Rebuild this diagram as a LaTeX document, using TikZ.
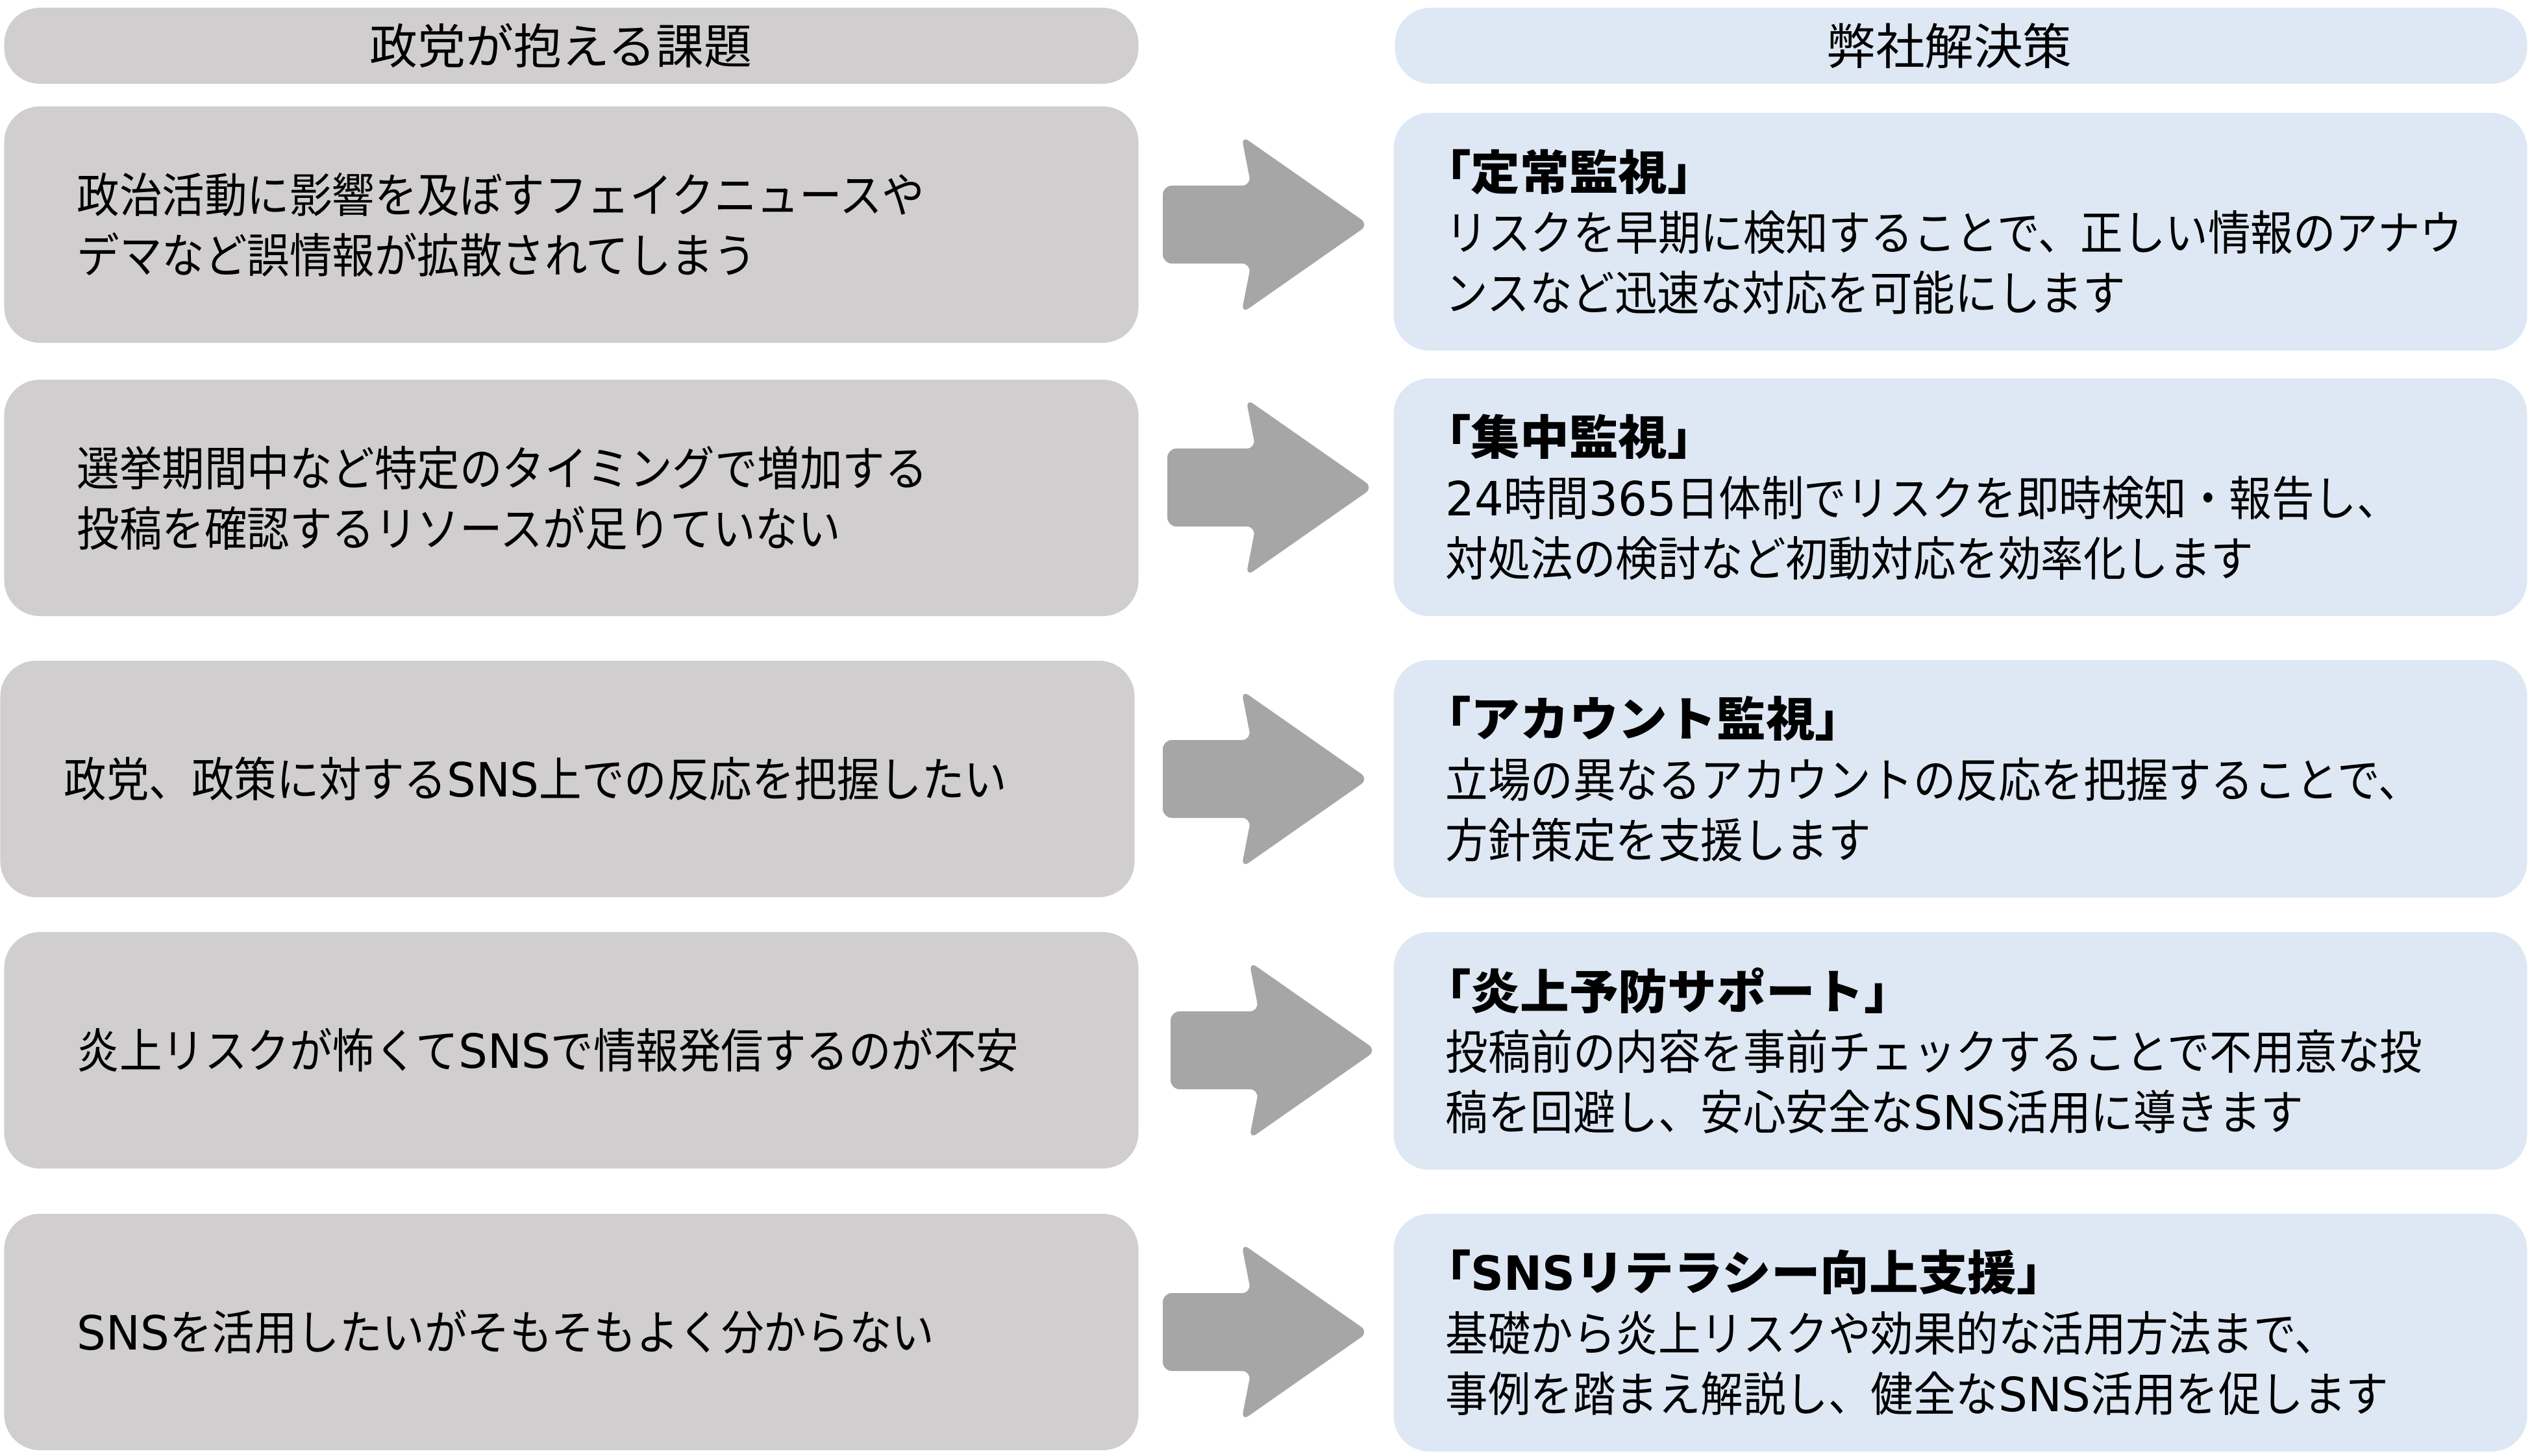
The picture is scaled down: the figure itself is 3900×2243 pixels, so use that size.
\documentclass[tikz,border=0pt]{standalone}
\usepackage{fontspec}
\setmainfont{Noto Sans CJK JP}[FakeStretch=0.9, BoldFeatures={FakeStretch=1.04}]
\newfontfamily\hfont{Noto Sans CJK JP}[FakeStretch=1.0]
\newfontfamily\latfont{DejaVu Sans}[FakeStretch=0.97]
\definecolor{lgray}{HTML}{D0CECF}
\definecolor{lblue}{HTML}{DEE8F4}
\definecolor{agray}{HTML}{A6A6A6}
\tikzset{
  basebox/.style={rectangle, rounded corners=0.55cm, inner ysep=0pt, font=\fontsize{20.7pt}{26.5pt}\selectfont, text=black},
  lhead/.style={basebox, fill=lgray, minimum width=17.46cm, minimum height=1.17cm, align=center, font=\hfont\fontsize{21pt}{26pt}\selectfont},
  rhead/.style={basebox, fill=lblue, minimum width=17.43cm, minimum height=1.17cm, align=center, font=\hfont\fontsize{21.5pt}{26pt}\selectfont},
  lbox/.style={basebox, fill=lgray, minimum width=17.46cm, minimum height=3.64cm, inner xsep=1.12cm, text width=15.22cm, align=left},
  rbox/.style={basebox, fill=lblue, minimum width=17.45cm, minimum height=3.66cm, inner xsep=0.80cm, text width=15.85cm, align=left},
  blockarrow/.style={fill=agray, rounded corners=0.14cm}
}
\newcommand\ttl[1]{{\bfseries\hspace{-0.5em}#1}}
\newcommand\lt[1]{{\latfont #1}}
\newcommand\lbt[1]{{\latfont\bfseries #1}}
\newcommand\drawblockarrow[3]{%
  \begin{scope}[shift={(#1,#2)}]
    \coordinate (#3) at (0,0);
    \fill[blockarrow] (0,-60) -- (136,-60) -- (121,-137) -- (317,0) -- (121,137) -- (136,60) -- (0,60) -- cycle;
  \end{scope}}
\begin{document}
\begin{tikzpicture}[x=0.01cm,y=-0.01cm]
\useasboundingbox (0,0) rectangle (3900,2243);

% headers
\node[lhead] (H1) at (880,70.5) {政党が抱える課題\hspace*{0.32cm}};
\node[rhead] (H2) at (3020.5,70.5) {弊社解決策\hspace*{0.36cm}};

% left boxes
\node[lbox] (L1) at (880,346) {政治活動に影響を及ぼすフェイクニュースや\\デマなど誤情報が拡散されてしまう};
\node[lbox] (L2) at (880,767) {選挙期間中など特定のタイミングで増加する\\投稿を確認するリソースが足りていない};
\node[lbox, inner xsep=0.98cm, text width=15.5cm] (L3) at (874,1200) {政党、政策に対する\lt{SNS}上での反応を把握したい};
\node[lbox] (L4) at (880,1618) {炎上リスクが怖くて\lt{SNS}で情報発信するのが不安};
\node[lbox] (L5) at (880,2052) {\lt{SNS}を活用したいがそもそもよく分からない};

% right boxes
\node[rbox] (R1) at (3019.5,357) {\ttl{「定常監視」}\\リスクを早期に検知することで、正しい情報のアナウ\\ンスなど迅速な対応を可能にします};
\node[rbox] (R2) at (3019.5,766) {\ttl{「集中監視」}\\\lt{24}時間\lt{365}日体制でリスクを即時検知・報告し、\\対処法の検討など初動対応を効率化します};
\node[rbox] (R3) at (3019.5,1200) {\ttl{「アカウント監視」}\\立場の異なるアカウントの反応を把握することで、\\方針策定を支援します};
\node[rbox] (R4) at (3019.5,1619) {\ttl{「炎上予防サポート」}\\投稿前の内容を事前チェックすることで不用意な投\\稿を回避し、安心安全な\lt{SNS}活用に導きます};
\node[rbox] (R5) at (3019.5,2053) {\ttl{「\lbt{SNS}リテラシー向上支援」}\\基礎から炎上リスクや効果的な活用方法まで、\\事例を踏まえ解説し、健全な\lt{SNS}活用を促します};

% arrows
\drawblockarrow{1791}{346}{A1}
\drawblockarrow{1798}{751}{A2}
\drawblockarrow{1791}{1200}{A3}
\drawblockarrow{1803}{1618}{A4}
\drawblockarrow{1791}{2052}{A5}
\end{tikzpicture}
\end{document}
